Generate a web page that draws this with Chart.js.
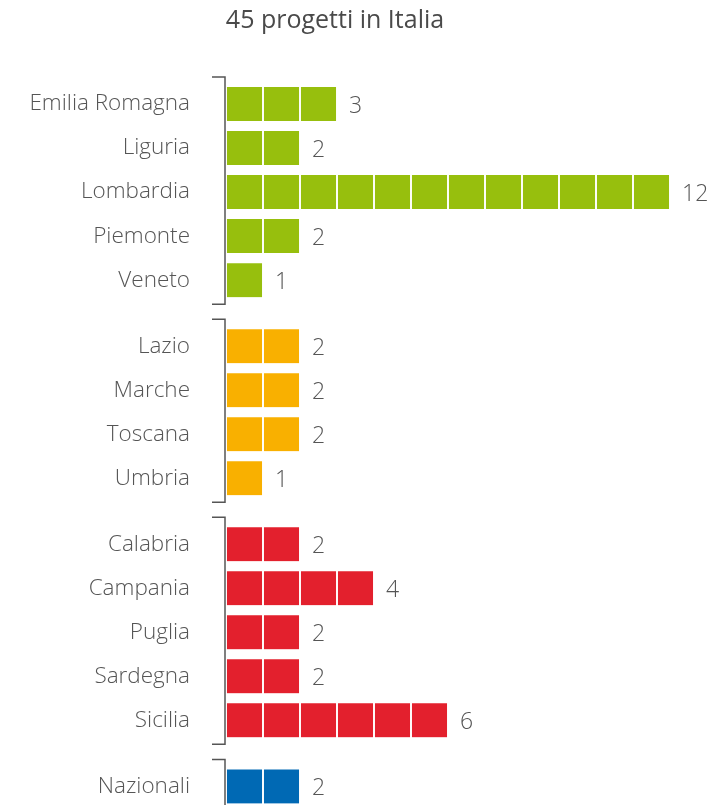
<!DOCTYPE html>
<html>
<head>
<meta charset="utf-8">
<script src="https://cdn.jsdelivr.net/npm/chart.js"></script>
<style>
  html, body { margin: 0; padding: 0; background: #fff; }
  #wrap { position: relative; width: 710px; height: 805px; }
</style>
</head>
<body>
<div id="wrap"><canvas id="chart" width="710" height="805"></canvas></div>
<script>
const title = '45 progetti in Italia';
const groupRegions = [
  ['Emilia Romagna', 'Liguria', 'Lombardia', 'Piemonte', 'Veneto'],
  ['Lazio', 'Marche', 'Toscana', 'Umbria'],
  ['Calabria', 'Campania', 'Puglia', 'Sardegna', 'Sicilia'],
  ['Nazionali']
];
const groupValues = [
  [3, 2, 12, 2, 1],
  [2, 2, 2, 1],
  [2, 4, 2, 2, 6],
  [2]
];
const groupColors = ['#97bf0d', '#f9b000', '#e3202d', '#0069b4'];

const FONT = '"Open Sans", "DejaVu Sans", sans-serif';

// flatten groups into rows, leaving half a row between groups
const labels = [], values = [], colors = [], positions = [], groupRange = [];
let row = 0;
groupRegions.forEach(function(names, g) {
  const first = row + g * 0.5;
  names.forEach(function(name, i) {
    labels.push(name);
    values.push(groupValues[g][i]);
    colors.push(groupColors[g]);
    positions.push(row + g * 0.5);
    row++;
  });
  groupRange.push([first, row - 1 + g * 0.5]);
});
const maxValue = Math.max.apply(null, values);

// one stacked dataset per unit square
const datasets = [];
for (let k = 1; k <= maxValue; k++) {
  datasets.push({
    data: values.map(function(v, i) { return { x: v >= k ? 1 : null, y: positions[i] }; }),
    backgroundColor: colors,
    borderColor: '#ffffff',
    borderWidth: { left: 1.3, right: 1.3, top: 0, bottom: 0 },
    borderSkipped: false,
    barThickness: 34
  });
}

const decorPlugin = {
  id: 'decor',
  afterDraw: function(chart) {
    const ctx = chart.ctx;
    const xs = chart.scales.x, ys = chart.scales.y;
    ctx.save();
    // title
    ctx.fillStyle = '#4a4a4a';
    ctx.font = '400 25px ' + FONT;
    ctx.textAlign = 'center';
    ctx.textBaseline = 'middle';
    ctx.fillText(title, 335, 21);
    // value labels
    ctx.fillStyle = '#555';
    ctx.font = '300 23px ' + FONT;
    ctx.textAlign = 'left';
    values.forEach(function(v, i) {
      ctx.fillText(String(v), xs.getPixelForValue(v) + 12, ys.getPixelForValue(positions[i]) + 2);
    });
    // group brackets
    ctx.strokeStyle = '#555';
    ctx.lineWidth = 1.5;
    const bx = xs.left - 1;
    groupRange.forEach(function(r) {
      const top = ys.getPixelForValue(r[0]) - 27;
      const bottom = ys.getPixelForValue(r[1]) + 24;
      ctx.beginPath();
      ctx.moveTo(bx - 13, top);
      ctx.lineTo(bx, top);
      ctx.lineTo(bx, bottom);
      ctx.lineTo(bx - 13, bottom);
      ctx.stroke();
    });
    ctx.restore();
  }
};

new Chart(document.getElementById('chart'), {
  type: 'bar',
  data: { datasets: datasets },
  plugins: [decorPlugin],
  options: {
    indexAxis: 'y',
    responsive: false,
    animation: false,
    layout: { padding: { left: 0, right: 3, top: 38, bottom: 1 } },
    plugins: { legend: { display: false }, tooltip: { enabled: false }, title: { display: false } },
    scales: {
      x: { display: false, stacked: true, min: 0, max: 13 },
      y: {
        type: 'linear',
        reverse: true,
        stacked: true,
        offset: false,
        min: -1.5,
        max: 15.9,
        grid: { display: false, drawTicks: false, offset: false },
        border: { display: false },
        afterFit: function(scale) { scale.width = 226; scale.paddingTop = 0; scale.paddingBottom = 0; },
        afterBuildTicks: function(scale) {
          scale.ticks = positions.map(function(p) { return { value: p }; });
        },
        ticks: {
          padding: 36,
          color: '#555',
          font: { family: FONT, size: 22.5, weight: '300' },
          callback: function(value) {
            const i = positions.indexOf(value);
            return i >= 0 ? labels[i] : '';
          }
        }
      }
    }
  }
});
</script>
</body>
</html>
